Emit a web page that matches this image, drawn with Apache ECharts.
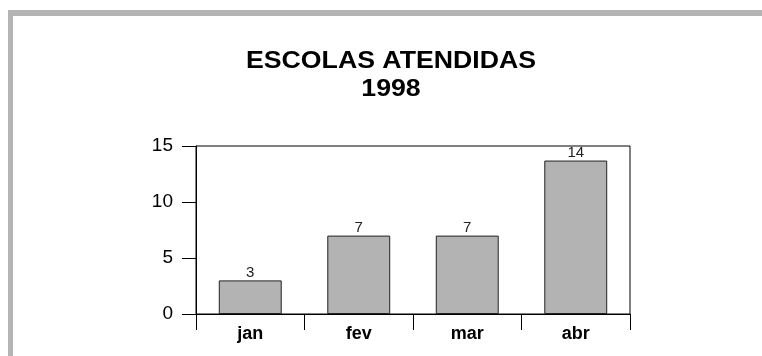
<!DOCTYPE html>
<html>
<head>
<meta charset="utf-8">
<script src="https://cdn.jsdelivr.net/npm/echarts@6/dist/echarts.min.js"></script>
<style>
  html, body { margin: 0; padding: 0; background: #fff; }
  #chart { width: 762px; height: 356px; }
</style>
</head>
<body>
<div id="chart"></div>
<script>
var titulo = ['ESCOLAS ATENDIDAS', '1998']
var meses = ['jan', 'fev', 'mar', 'abr']
var escolas = [3, 7, 7, 13.7]
var yTicks = [0, 5, 10, 15]

// title drawn as text, slightly widened like the original
var tituloStyle = function (t) {
  return {
    text: t,
    font: 'bold 23px "Liberation Sans", Arial, sans-serif',
    fill: '#000',
    textAlign: 'center', textVerticalAlign: 'middle',
    align: 'center', verticalAlign: 'middle'
  }
}

var chart = echarts.init(document.getElementById('chart'))
chart.setOption({
  animation: false,
  backgroundColor: '#fff',
  graphic: [
    { type: 'rect', shape: { x: 8, y: 10, width: 754, height: 6 }, style: { fill: '#b4b4b4' } },
    { type: 'rect', shape: { x: 8, y: 10, width: 5, height: 346 }, style: { fill: '#b4b4b4' } },
    { type: 'text', x: 391, y: 62, scaleX: 1.16, style: tituloStyle(titulo[0]) },
    { type: 'text', x: 391, y: 90, scaleX: 1.16, style: tituloStyle(titulo[1]) }
  ],
  grid: {
    left: 196, top: 146, right: 132, bottom: 42,
    show: true, borderColor: '#000', borderWidth: 1
  },
  xAxis: {
    type: 'category',
    data: meses,
    axisLine: { lineStyle: { color: '#000', width: 1 } },
    axisTick: { show: true, length: 16, lineStyle: { color: '#000' } },
    axisLabel: {
      margin: 11,
      color: '#000',
      fontFamily: 'Liberation Sans, Arial, sans-serif',
      fontWeight: 'bold',
      fontSize: 18
    }
  },
  yAxis: {
    type: 'value',
    min: yTicks[0],
    max: yTicks[yTicks.length - 1],
    interval: 5,
    splitLine: { show: false },
    axisLine: { show: true, lineStyle: { color: '#000', width: 1 } },
    axisTick: { show: true, length: 14, lineStyle: { color: '#000' } },
    axisLabel: {
      margin: 23,
      color: '#000',
      fontFamily: 'Liberation Sans, Arial, sans-serif',
      fontSize: 19
    }
  },
  series: [{
    type: 'bar',
    data: escolas,
    barWidth: '58%',
    itemStyle: { color: '#b3b3b3', borderColor: '#222', borderWidth: 1 },
    label: {
      show: true,
      position: 'top',
      distance: 0,
      color: '#222',
      fontFamily: '"Liberation Sans Narrow", "Arial Narrow", sans-serif',
      fontSize: 15,
      formatter: function (p) { return Math.round(p.value) }
    }
  }]
})
</script>
</body>
</html>
